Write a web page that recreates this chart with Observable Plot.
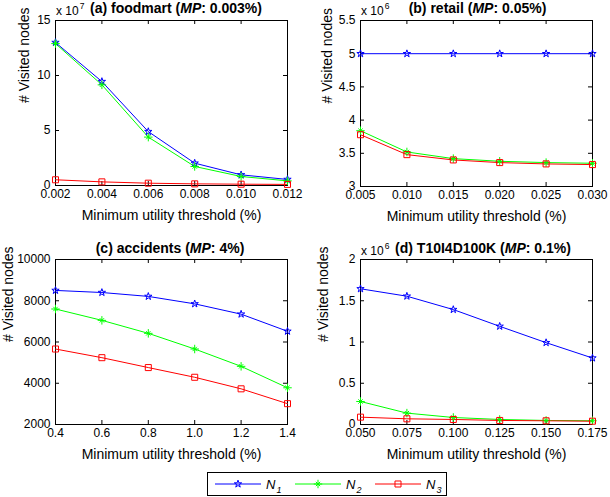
<!DOCTYPE html>
<html><head><meta charset="utf-8">
<script src="https://cdn.jsdelivr.net/npm/d3@7"></script>
<script src="https://cdn.jsdelivr.net/npm/@observablehq/plot@0.6"></script>
<style>
body{margin:0;background:#fff;}
#root{position:relative;width:610px;height:497px;font-family:"Liberation Sans",Arial,Helvetica,sans-serif;background:#fff;overflow:hidden;color:#000}
.panel{position:absolute}
.title{position:absolute;font-weight:bold;font-size:14px;line-height:14px;white-space:nowrap;transform:translateX(-50%)}
.exp{position:absolute;font-size:12px;line-height:12px;white-space:nowrap}
.exp span{position:relative;top:-6px;font-size:8.5px;margin-left:1px}
</style></head><body><div id="root"></div>
<script>
// ---- data ----
const seriesNames = ["N1", "N2", "N3"];
const seriesColors = ["#0000ff", "#00ff00", "#ff0000"];
const axisXLabel = "Minimum utility threshold (%)";
const axisYLabel = "# Visited nodes";

// (a) foodmart, values x 10^7
const foodmartX = [0.002, 0.004, 0.006, 0.008, 0.010, 0.012];
const foodmartN1 = [13.0, 9.45, 4.9, 2.03, 0.97, 0.55];
const foodmartN2 = [12.9, 9.15, 4.4, 1.73, 0.82, 0.42];
const foodmartN3 = [0.52, 0.33, 0.21, 0.15, 0.12, 0.10];
const foodmartYTicks = [0, 5, 10, 15];

// (b) retail, values x 10^6
const retailX = [0.005, 0.010, 0.015, 0.020, 0.025, 0.030];
const retailN1 = [5.0, 5.0, 5.0, 5.0, 5.0, 5.0];
const retailN2 = [3.84, 3.52, 3.42, 3.38, 3.36, 3.35];
const retailN3 = [3.78, 3.48, 3.40, 3.36, 3.34, 3.33];
const retailYTicks = [3, 3.5, 4, 4.5, 5, 5.5];

// (c) accidents
const accidentsX = [0.4, 0.6, 0.8, 1.0, 1.2, 1.4];
const accidentsN1 = [8500, 8400, 8210, 7850, 7350, 6520];
const accidentsN2 = [7600, 7050, 6420, 5660, 4820, 3780];
const accidentsN3 = [5660, 5240, 4760, 4290, 3730, 3010];
const accidentsYTicks = [2000, 4000, 6000, 8000, 10000];

// (d) T10I4D100K, values x 10^6
const t10X = [0.050, 0.075, 0.100, 0.125, 0.150, 0.175];
const t10N1 = [1.645, 1.555, 1.393, 1.19, 0.992, 0.806];
const t10N2 = [0.279, 0.138, 0.085, 0.061, 0.049, 0.045];
const t10N3 = [0.089, 0.069, 0.061, 0.049, 0.045, 0.040];
const t10YTicks = [0, 0.5, 1, 1.5, 2];

// ---- layout ----
const FONT = '"Liberation Sans",Arial,Helvetica,sans-serif';
const panels = [
  {left: 0, top: 0, height: 240, mt: 20, mb: 55, x: foodmartX, ys: [foodmartN1, foodmartN2, foodmartN3],
   xDomain: [0.002, 0.012], yDomain: [0, 15], yTicks: foodmartYTicks, xFmt: d3.format(".3f"), yFmt: d => String(d),
   title: ["(a) foodmart (", ": 0.003%)"], exp: "7", titleCx: 176, titleTop: 1, expTop: 5, ylabDx: -31},
  {left: 305, top: 0, height: 240, mt: 20, mb: 54, x: retailX, ys: [retailN1, retailN2, retailN3],
   xDomain: [0.005, 0.030], yDomain: [3, 5.5], yTicks: retailYTicks, xFmt: d3.format(".3f"), yFmt: d => String(d),
   title: ["(b) retail (", ": 0.05%)"], exp: "6", titleCx: 172.5, titleTop: 1, expTop: 5, ylabDx: -33},
  {left: 0, top: 240, height: 230, mt: 19, mb: 46, x: accidentsX, ys: [accidentsN1, accidentsN2, accidentsN3],
   xDomain: [0.4, 1.4], yDomain: [2000, 10000], yTicks: accidentsYTicks, xFmt: d3.format(".1f"), yFmt: d => String(d),
   title: ["(c) accidents (", ": 4%)"], exp: null, titleCx: 170, titleTop: 1, expTop: 5, ylabDx: -47},
  {left: 305, top: 240, height: 230, mt: 19, mb: 46, x: t10X, ys: [t10N1, t10N2, t10N3],
   xDomain: [0.05, 0.175], yDomain: [0, 2], yTicks: t10YTicks, xFmt: d3.format(".3f"), yFmt: d => String(d),
   title: ["(d) T10I4D100K (", ": 0.1%)"], exp: "6", titleCx: 178, titleTop: 1, expTop: 5, ylabDx: -37}
];

const root = document.getElementById("root");
const W = 305, ML = 55, MR = 18, TL = 4;

const symbolMarks = (data) => [
  Plot.dot(data.filter(d => d.s === "N1"), {x: "x", y: "y", symbol: "star", r: 2.3, fill: "none", stroke: "s", strokeWidth: 1}),
  Plot.dot(data.filter(d => d.s === "N2"), {x: "x", y: "y", symbol: "plus", r: 2.85, fill: "none", stroke: "s", strokeWidth: 1}),
  Plot.dot(data.filter(d => d.s === "N2"), {x: "x", y: "y", symbol: "times", r: 2.1, fill: "none", stroke: "s", strokeWidth: 1}),
  Plot.dot(data.filter(d => d.s === "N3"), {x: "x", y: "y", symbol: "square", r: 3.4, fill: "none", stroke: "s", strokeWidth: 1})
];

panels.forEach(p => {
  const data = [];
  p.ys.forEach((arr, si) => arr.forEach((v, i) => data.push({x: p.x[i], y: v, s: seriesNames[si]})));
  const pw = W - ML - MR, ph = p.height - p.mt - p.mb;
  const chart = Plot.plot({
    width: W, height: p.height,
    marginLeft: ML, marginRight: MR, marginTop: p.mt, marginBottom: p.mb,
    style: {fontFamily: FONT, fontSize: "12px", color: "black", background: "transparent", overflow: "visible"},
    x: {domain: p.xDomain},
    y: {domain: p.yDomain},
    color: {domain: seriesNames, range: seriesColors},
    marks: [
      Plot.tickX(p.x, {x: d => d, insetTop: ph - TL, stroke: "black"}),
      Plot.tickX(p.x, {x: d => d, insetBottom: ph - TL, stroke: "black"}),
      Plot.tickY(p.yTicks, {y: d => d, insetRight: pw - TL, stroke: "black"}),
      Plot.tickY(p.yTicks, {y: d => d, insetLeft: pw - TL, stroke: "black"}),
      Plot.frame({stroke: "black"}),
      Plot.axisX(p.x, {tickSize: 0, tickPadding: 4, tickFormat: p.xFmt, label: null, fill: "black"}),
      Plot.axisY(p.yTicks, {tickSize: 0, tickPadding: 5, tickFormat: p.yFmt, label: null, fill: "black"}),
      Plot.text([axisXLabel], {text: d => d, frameAnchor: "bottom", dy: 34, lineAnchor: "bottom", fontSize: 14, fill: "black"}),
      Plot.text([axisYLabel], {text: d => d, frameAnchor: "left", dx: p.ylabDx, rotate: -90, fontSize: 14, fill: "black"}),
      Plot.line(data, {x: "x", y: "y", z: "s", stroke: "s", strokeWidth: 1}),
      ...symbolMarks(data)
    ]
  });
  const holder = document.createElement("div");
  holder.className = "panel";
  holder.style.left = p.left + "px";
  holder.style.top = p.top + "px";
  holder.appendChild(chart);
  root.appendChild(holder);

  const t = document.createElement("div");
  t.className = "title";
  t.style.left = (p.left + p.titleCx) + "px";
  t.style.top = (p.top + p.titleTop) + "px";
  t.innerHTML = p.title[0] + "<i>MP</i>" + p.title[1];
  root.appendChild(t);

  if (p.exp) {
    const e = document.createElement("div");
    e.className = "exp";
    e.style.left = (p.left + ML + 1) + "px";
    e.style.top = (p.top + p.expTop) + "px";
    e.innerHTML = "x 10<span>" + p.exp + "</span>";
    root.appendChild(e);
  }
});

// ---- legend ----
const legendSymbols = [
  [d3.symbolStar, Math.PI * 2.3 * 2.3],
  [[d3.symbolPlus, Math.PI * 2.85 * 2.85], [d3.symbolTimes, Math.PI * 2.1 * 2.1]],
  [d3.symbolSquare, Math.PI * 3.4 * 3.4]
];
const leg = d3.select(root).append("svg")
  .attr("width", 240).attr("height", 24)
  .style("position", "absolute").style("left", "207px").style("top", "472px")
  .style("font-family", FONT);
leg.append("rect").attr("x", 0.5).attr("y", 0.5).attr("width", 239).attr("height", 23)
  .attr("fill", "white").attr("stroke", "black");
const entryX = [8, 88, 168];
seriesNames.forEach((name, i) => {
  const g = leg.append("g").attr("transform", `translate(${entryX[i]},12)`);
  g.append("line").attr("x1", 0).attr("x2", 46).attr("stroke", seriesColors[i]).attr("stroke-width", 1);
  const syms = Array.isArray(legendSymbols[i][0]) ? legendSymbols[i] : [legendSymbols[i]];
  syms.forEach(([type, size]) => {
    g.append("path").attr("transform", "translate(23,0)")
      .attr("d", d3.symbol(type, size)())
      .attr("fill", "none").attr("stroke", seriesColors[i]).attr("stroke-width", 1);
  });
  const txt = g.append("text").attr("x", 51).attr("y", 4.5).attr("font-size", 13).attr("font-style", "italic").attr("fill", "black");
  txt.append("tspan").text(name.slice(0, 1));
  txt.append("tspan").attr("font-size", 9).attr("dy", 4).attr("dx", 1).text(name.slice(1));
});
</script>
</body></html>
